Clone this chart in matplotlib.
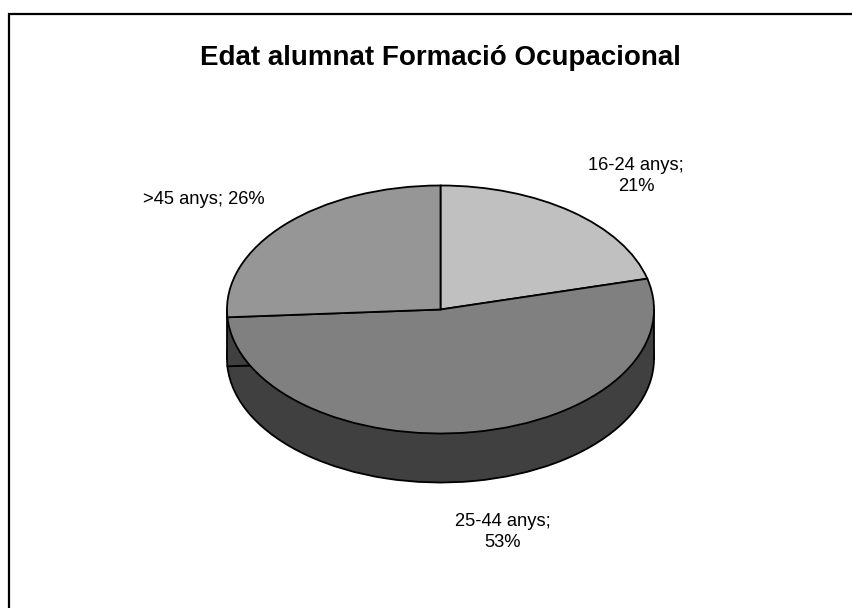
import matplotlib
matplotlib.use("Agg")
import matplotlib.pyplot as plt
from matplotlib.patches import Rectangle

categories = ["16-24 anys", "25-44 anys", ">45 anys"]
shares = [21, 53, 26]
top_colors = ["#C0C0C0", "#808080", "#969696"]
side_color = "#404040"
title = "Edat alumnat Formació Ocupacional"

W, H = 852, 608
plt.rcParams["font.family"] = ["Liberation Sans", "DejaVu Sans"]
fig = plt.figure(figsize=(W / 100, H / 100), dpi=100, facecolor="white")
ax = fig.add_axes([0, 0, 1, 1])

# pie is squashed by axis scaling: 1 unit = 213 px in x, 124 px in y
CX, CY, RX, RY, DEPTH = 440.5, 309.5, 213.5, 124.0, 49.0
edge = dict(edgecolor="black", linewidth=1.3)

# extruded side: lower copy + band
ax.pie(shares, colors=[side_color] * 3, startangle=90, counterclock=False,
       center=(0, -DEPTH / RY), radius=1, wedgeprops=dict(edgecolor="black", linewidth=1.3), frame=True)
ax.add_patch(Rectangle((-1, -DEPTH / RY), 2, DEPTH / RY, facecolor=side_color, edgecolor="none", zorder=1.5))
ax.plot([-1, -1], [-DEPTH / RY, 0], color="black", lw=1.3, zorder=1.6)
ax.plot([1, 1], [-DEPTH / RY, 0], color="black", lw=1.3, zorder=1.6)

# top face
wedges, _ = ax.pie(shares, colors=top_colors, startangle=90, counterclock=False,
                   center=(0, 0), radius=1, wedgeprops=edge, frame=True)
for w in wedges:
    w.set_zorder(2)

ax.set_aspect("auto")
ax.set_xlim(-CX / RX, (W - CX) / RX)
ax.set_ylim(-(H - CY) / RY, CY / RY)
ax.axis("off")


def px(x, y):
    return (x - CX) / RX, (CY - y) / RY


ax.plot(*zip(px(9.5, H + 5), px(9.5, 13.5), px(W + 5, 13.5)), color="black", lw=1.6, zorder=5, solid_joinstyle="miter")

fs = 13.2
ax.text(*px(440, 58), title, ha="center", va="center", fontsize=20, fontweight="bold")
ax.text(*px(636, 176), f"{categories[0]};\n{shares[0]}%", ha="center", va="center", fontsize=fs, linespacing=1.25)
ax.text(*px(503, 532), f"{categories[1]};\n{shares[1]}%", ha="center", va="center", fontsize=fs, linespacing=1.25)
ax.text(*px(204, 200), f"{categories[2]}; {shares[2]}%", ha="center", va="center", fontsize=fs)

fig.savefig("out.png", dpi=100, facecolor="white")
